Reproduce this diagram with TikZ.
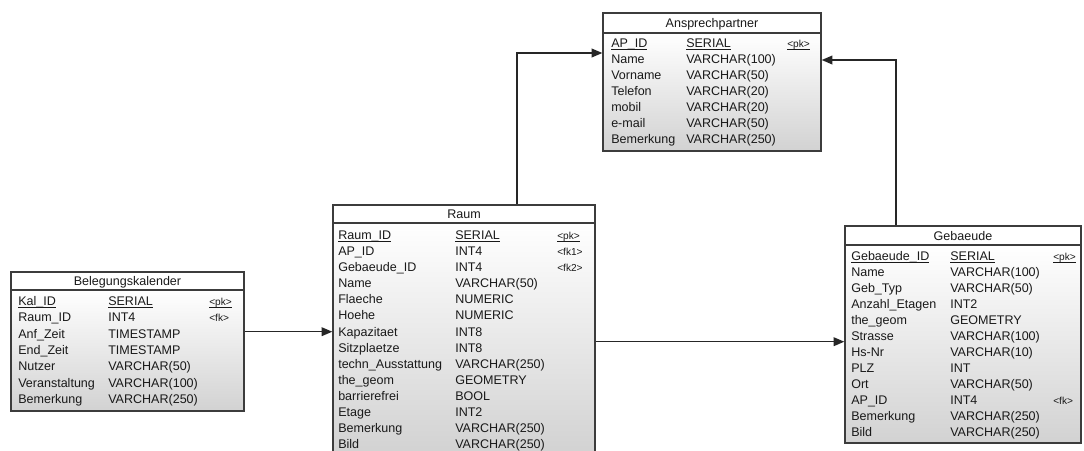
\documentclass[tikz,border=0pt]{standalone}
\usepackage{fontspec}
\setmainfont{Liberation Sans}
\usetikzlibrary{arrows.meta,fit}
\definecolor{frame}{HTML}{3C3C3C}
\definecolor{bodybot}{HTML}{D2D2D2}
% underline set close to the baseline, ignoring descenders
\newcommand{\keyline}[1]{\underline{\smash{#1}}}
\begin{document}
\begin{tikzpicture}[x=0.75pt,y=-0.75pt,
  every node/.style={font=\fontsize{9.4pt}{11pt}\selectfont, inner sep=0pt, text=black!90},
  head/.style={draw=frame, line width=1pt, fill=white},
  body/.style={draw=frame, line width=1pt, top color=white, bottom color=bodybot},
  title/.style={anchor=base},
  col/.style={anchor=base west},
  key/.style={anchor=base west, font=\fontsize{7.6pt}{9pt}\selectfont},
  rel/.style={draw=black!85, line width=1.1pt, -{Triangle[length=8pt,width=6.5pt]}}]
\useasboundingbox (0,0) rectangle (1084,450);

% ---------- Ansprechpartner ----------
\node[body, fit={(603,33)(821,151)}] (ap) {};
\node[head, fit={(603,13)(821,33)}] (aph) {};
\node[title] (aph-t) at (712,27.5) {Ansprechpartner};
\node[col] (ap-pk) at (611,47.5) {\keyline{AP\_ID}};
\node[col] (ap-pkt) at (686,47.5) {\keyline{SERIAL}};
\node[key] (ap-pkk) at (787,47.5) {\keyline{<pk>}};
\foreach \n/\t [count=\i] in {Name/VARCHAR(100), Vorname/VARCHAR(50), Telefon/VARCHAR(20),
    mobil/VARCHAR(20), e-mail/VARCHAR(50), Bemerkung/VARCHAR(250)} {
  \node[col] (ap-n\i) at (611,{63.5+16*(\i-1)}) {\n};
  \node[col] (ap-t\i) at (686,{63.5+16*(\i-1)}) {\t};
}

% ---------- Raum ----------
\node[body, fit={(333,223)(595,453)}] (raum) {};
\node[head, fit={(333,205)(595,223)}] (raumh) {};
\node[title] (raumh-t) at (464,218.5) {Raum};
\node[col] (raum-pk) at (338,239.5) {\keyline{Raum\_ID}};
\node[col] (raum-pkt) at (455,239.5) {\keyline{SERIAL}};
\node[key] (raum-pkk) at (557,239.5) {\keyline{<pk>}};
\foreach \n/\t [count=\i] in {AP\_ID/INT4, Gebaeude\_ID/INT4, Name/VARCHAR(50),
    Flaeche/NUMERIC, Hoehe/NUMERIC, Kapazitaet/INT8, Sitzplaetze/INT8,
    techn\_Ausstattung/VARCHAR(250), the\_geom/GEOMETRY, barrierefrei/BOOL,
    Etage/INT2, Bemerkung/VARCHAR(250), Bild/VARCHAR(250)} {
  \node[col] (raum-n\i) at (338,{255.6+16.08*(\i-1)}) {\n};
  \node[col] (raum-t\i) at (455,{255.6+16.08*(\i-1)}) {\t};
}
\node[key] (raum-k1) at (557,255.6) {<fk1>};
\node[key] (raum-k2) at (557,271.7) {<fk2>};

% ---------- Belegungskalender ----------
\node[body, fit={(11,290)(244,411)}] (bel) {};
\node[head, fit={(11,272)(244,290)}] (belh) {};
\node[title] (belh-t) at (127.5,285.5) {Belegungskalender};
\node[col] (bel-pk) at (18,305.5) {\keyline{Kal\_ID}};
\node[col] (bel-pkt) at (108,305.5) {\keyline{SERIAL}};
\node[key] (bel-pkk) at (209,305.5) {\keyline{<pk>}};
\foreach \n/\t [count=\i] in {Raum\_ID/INT4, Anf\_Zeit/TIMESTAMP, End\_Zeit/TIMESTAMP,
    Nutzer/VARCHAR(50), Veranstaltung/VARCHAR(100), Bemerkung/VARCHAR(250)} {
  \node[col] (bel-n\i) at (18,{321.8+16.3*(\i-1)}) {\n};
  \node[col] (bel-t\i) at (108,{321.8+16.3*(\i-1)}) {\t};
}
\node[key] (bel-k1) at (209,321.8) {<fk>};

% ---------- Gebaeude ----------
\node[body, fit={(845,245)(1081,443)}] (geb) {};
\node[head, fit={(845,226)(1081,245)}] (gebh) {};
\node[title] (gebh-t) at (963,240) {Gebaeude};
\node[col] (geb-pk) at (851,260.5) {\keyline{Gebaeude\_ID}};
\node[col] (geb-pkt) at (950,260.5) {\keyline{SERIAL}};
\node[key] (geb-pkk) at (1053,260.5) {\keyline{<pk>}};
\foreach \n/\t [count=\i] in {Name/VARCHAR(100), Geb\_Typ/VARCHAR(50), Anzahl\_Etagen/INT2,
    the\_geom/GEOMETRY, Strasse/VARCHAR(100), Hs-Nr/VARCHAR(10), PLZ/INT,
    Ort/VARCHAR(50), AP\_ID/INT4, Bemerkung/VARCHAR(250), Bild/VARCHAR(250)} {
  \node[col] (geb-n\i) at (851,{276.5+16*(\i-1)}) {\n};
  \node[col] (geb-t\i) at (950,{276.5+16*(\i-1)}) {\t};
}
\node[key] (geb-k9) at (1053,404.5) {<fk>};

% ---------- references ----------
\coordinate (bendA) at (517,53);
\coordinate (bendB) at (896,60);
\coordinate (levC) at (0,331.7);
\coordinate (levD) at (0,341.7);
\draw[rel] (raumh.north -| bendA) |- (ap.west |- bendA);
\draw[rel] (gebh.north -| bendB) |- (ap.east |- bendB);
\draw[rel] (bel.east |- levC) -- (raum.west |- levC);
\draw[rel] (raum.east |- levD) -- (geb.west |- levD);
\end{tikzpicture}
\end{document}
